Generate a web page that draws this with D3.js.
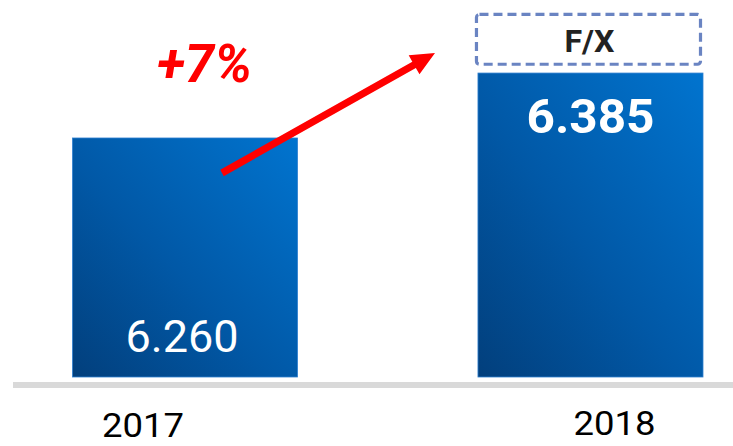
<!DOCTYPE html>
<html>
<head>
<meta charset="utf-8">
<script src="https://cdn.jsdelivr.net/npm/d3@7"></script>
<style>
  html, body { margin: 0; padding: 0; background: #fff; }
  svg { display: block; }
  text { font-family: "Liberation Sans Narrow", "Roboto", "Liberation Sans", sans-serif; }
</style>
</head>
<body>
<script>
const years = ['2017', '2018'];
const values = [6.260, 6.385];
const valueLabels = ['6.260', '6.385'];
const fxRange = [6.40, 6.50];
const growthLabel = '+7%';

const WIDTH = 733;
const HEIGHT = 446;

const svg = d3.select('body')
  .append('svg')
  .attr('width', WIDTH)
  .attr('height', HEIGHT);

const x = d3.scaleBand()
  .domain(years)
  .range([72.5, 703])
  .paddingInner(0.445)
  .paddingOuter(0);

const y = d3.scaleLinear()
  .domain([5.8, 6.5])
  .range([377, 13.3]);

const defs = svg.append('defs');
const grad = defs.append('linearGradient')
  .attr('id', 'barGrad')
  .attr('x1', '0').attr('y1', '1')
  .attr('x2', '1').attr('y2', '0');
grad.append('stop').attr('offset', '0%').attr('stop-color', '#023f7c');
grad.append('stop').attr('offset', '45%').attr('stop-color', '#0158a6');
grad.append('stop').attr('offset', '100%').attr('stop-color', '#0174cf');

const data = years.map((yr, i) => ({ year: yr, value: values[i], label: valueLabels[i] }));

// baseline
svg.append('rect')
  .attr('x', 13)
  .attr('y', 382)
  .attr('width', WIDTH - 13)
  .attr('height', 6)
  .attr('fill', '#d9d9d9');

svg.selectAll('rect.bar')
  .data(data)
  .enter().append('rect')
    .classed('bar', true)
    .attr('x', d => x(d.year))
    .attr('y', d => y(d.value))
    .attr('width', x.bandwidth())
    .attr('height', d => y.range()[0] - y(d.value))
    .attr('fill', 'url(#barGrad)')
    .attr('stroke', '#2f7fd0')
    .attr('stroke-width', 0.8);

// F/X placeholder box
svg.append('rect')
  .attr('x', x('2018') - 1.5)
  .attr('y', y(fxRange[1]) + 1)
  .attr('width', x.bandwidth() - 1)
  .attr('height', y(fxRange[0]) - y(fxRange[1]) - 2)
  .attr('rx', 3)
  .attr('fill', 'none')
  .attr('stroke', '#6a84c2')
  .attr('stroke-width', 3.2)
  .attr('stroke-dasharray', '9 5');

svg.append('text')
  .attr('x', x('2018') + x.bandwidth() / 2 - 1)
  .attr('y', 52)
  .attr('text-anchor', 'middle')
  .attr('font-size', 32)
  .attr('font-weight', 'bold')
  .attr('fill', '#222')
  .attr('textLength', 50)
  .attr('lengthAdjust', 'spacingAndGlyphs')
  .text('F/X');

// value labels
svg.append('text')
  .attr('x', x('2017') + x.bandwidth() / 2 - 3)
  .attr('y', 352)
  .attr('text-anchor', 'middle')
  .attr('font-size', 45)
  .attr('fill', '#fff')
  .attr('textLength', 113)
  .attr('lengthAdjust', 'spacingAndGlyphs')
  .text(data[0].label);

svg.append('text')
  .attr('x', x('2018') + x.bandwidth() / 2)
  .attr('y', 133)
  .attr('text-anchor', 'middle')
  .attr('font-size', 49)
  .attr('font-weight', 'bold')
  .attr('fill', '#fff')
  .attr('textLength', 128)
  .attr('lengthAdjust', 'spacingAndGlyphs')
  .text(data[1].label);

// year labels
const yearOffsets = [{ dx: -42, y: 437 }, { dx: 24, y: 435 }];
svg.selectAll('text.year')
  .data(data)
  .enter().append('text')
    .classed('year', true)
    .attr('x', (d, i) => x(d.year) + x.bandwidth() / 2 + yearOffsets[i].dx)
    .attr('y', (d, i) => yearOffsets[i].y)
    .attr('text-anchor', 'middle')
    .attr('font-size', 34)
    .attr('fill', '#000')
    .attr('textLength', 82)
    .attr('lengthAdjust', 'spacingAndGlyphs')
    .text(d => d.year);

// growth arrow
const start = [222, 173];
const end = [435, 53];
const ang = Math.atan2(end[1] - start[1], end[0] - start[0]);
const headLen = 24, headW = 11, shaftW = 3.6;
const ux = Math.cos(ang), uy = Math.sin(ang);
const px = -uy, py = ux;
const hb = [end[0] - ux * headLen, end[1] - uy * headLen];
const pts = [
  [start[0] + px * shaftW, start[1] + py * shaftW],
  [hb[0] + px * shaftW, hb[1] + py * shaftW],
  [hb[0] + px * headW, hb[1] + py * headW],
  end,
  [hb[0] - px * headW, hb[1] - py * headW],
  [hb[0] - px * shaftW, hb[1] - py * shaftW],
  [start[0] - px * shaftW, start[1] - py * shaftW]
];
svg.append('path')
  .attr('d', d3.line()(pts) + 'Z')
  .attr('fill', '#ff0000');

svg.append('text')
  .attr('x', 157)
  .attr('y', 82)
  .attr('font-size', 54)
  .attr('font-weight', 'bold')
  .attr('font-style', 'italic')
  .attr('fill', '#ff0000')
  .attr('textLength', 95)
  .attr('lengthAdjust', 'spacingAndGlyphs')
  .text(growthLabel);
</script>
</body>
</html>
